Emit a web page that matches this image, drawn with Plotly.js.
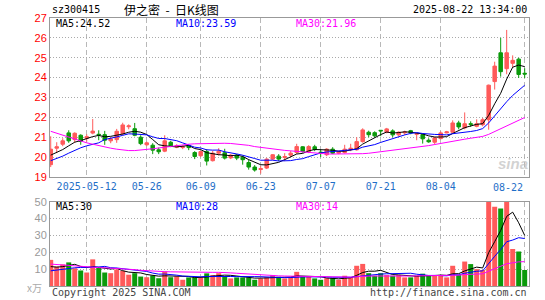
<!DOCTYPE html>
<html><head><meta charset="utf-8">
<script src="https://cdn.plot.ly/plotly-3.0.1.min.js"></script>
<style>html,body{margin:0;padding:0;background:#fff}#chart{width:545px;height:300px}</style>
</head><body><div id="chart"></div>
<script>
const dates = ['2025-04-29','2025-04-30','2025-05-06','2025-05-07','2025-05-08','2025-05-09','2025-05-12','2025-05-13','2025-05-14','2025-05-15',
'2025-05-16','2025-05-19','2025-05-20','2025-05-21','2025-05-22','2025-05-23','2025-05-26','2025-05-27','2025-05-28','2025-05-29',
'2025-05-30','2025-06-03','2025-06-04','2025-06-05','2025-06-06','2025-06-09','2025-06-10','2025-06-11','2025-06-12','2025-06-13',
'2025-06-16','2025-06-17','2025-06-18','2025-06-19','2025-06-20','2025-06-23','2025-06-24','2025-06-25','2025-06-26','2025-06-27',
'2025-06-30','2025-07-01','2025-07-02','2025-07-03','2025-07-04','2025-07-07','2025-07-08','2025-07-09','2025-07-10','2025-07-11',
'2025-07-14','2025-07-15','2025-07-16','2025-07-17','2025-07-18','2025-07-21','2025-07-22','2025-07-23','2025-07-24','2025-07-25',
'2025-07-28','2025-07-29','2025-07-30','2025-07-31','2025-08-01','2025-08-04','2025-08-05','2025-08-06','2025-08-07','2025-08-08',
'2025-08-11','2025-08-12','2025-08-13','2025-08-14','2025-08-15','2025-08-18','2025-08-19','2025-08-20','2025-08-21','2025-08-22'];

const openP = [19.62,20.45,20.65,21.22,20.88,21.1,20.95,21.21,21.15,21.13,
20.82,20.88,21.18,21.53,21.43,21.0,20.62,20.6,20.37,20.3,
20.75,20.5,20.48,20.58,20.23,20.07,20.28,19.82,20.2,20.22,
19.96,20.1,20.0,19.73,19.5,19.38,19.45,19.9,20.05,19.98,
20.1,20.23,20.52,20.27,20.52,20.25,20.12,20.4,20.2,20.23,
20.38,20.37,20.78,21.25,21.23,21.35,21.25,21.32,21.12,21.22,
21.33,21.15,21.13,20.85,20.75,20.93,21.22,21.25,21.72,21.47,
21.68,21.55,21.63,21.88,23.8,25.25,24.45,24.72,24.93,24.22];
const highP = [21.05,20.75,20.95,21.35,21.25,21.15,21.15,21.92,21.35,21.32,
21.0,21.42,21.73,21.65,21.72,21.1,20.78,20.7,20.48,21.1,
20.82,20.65,20.6,20.62,20.3,20.32,20.4,20.32,20.45,20.42,
20.15,20.15,20.08,19.87,19.6,19.55,19.95,20.15,20.15,20.2,
20.32,20.67,20.55,20.6,20.62,20.38,20.45,20.5,20.32,20.62,
20.67,21.0,21.45,21.33,21.3,21.35,21.47,21.4,21.3,21.33,
21.37,21.2,21.18,20.95,21.02,21.3,21.32,21.85,21.83,22.25,
21.8,21.9,21.97,23.65,24.8,26.0,26.4,25.12,25.0,24.47];
const lowP = [19.5,20.2,20.55,20.72,20.72,20.62,20.78,21.15,20.85,20.62,
20.7,20.72,21.1,21.4,21.05,20.6,20.55,20.15,20.15,20.25,
20.5,20.45,20.4,20.35,19.9,20.0,19.58,19.78,20.08,19.88,
19.9,19.85,19.62,19.37,19.27,19.17,19.4,19.85,19.8,19.8,
20.0,20.15,20.22,20.2,20.3,20.0,20.05,20.15,20.15,20.18,
20.3,20.33,20.73,21.0,21.0,21.05,21.2,21.0,21.05,21.12,
21.15,20.85,20.68,20.72,20.63,20.9,21.2,21.2,21.4,21.4,
21.52,21.5,21.55,21.38,23.4,24.05,24.17,24.5,23.98,23.98];
const closeP = [20.4,20.52,20.82,20.82,21.2,20.8,21.03,21.31,21.12,20.85,
20.92,21.3,21.62,21.57,21.1,20.68,20.72,20.35,20.27,20.82,
20.55,20.58,20.52,20.48,20.03,20.28,19.8,20.2,20.3,19.95,
20.1,19.95,19.87,19.5,19.35,19.42,19.9,20.12,19.9,20.03,
20.2,20.53,20.28,20.53,20.38,20.22,20.4,20.2,20.28,20.4,
20.45,20.78,21.37,21.13,21.07,21.32,21.42,21.12,21.25,21.26,
21.22,21.18,20.92,20.77,20.97,21.22,21.27,21.72,21.52,21.68,
21.65,21.68,21.88,23.62,24.58,24.3,25.25,24.87,24.16,24.18];
const volume = [15.5,11.5,12.8,14.0,10.5,9.2,8.0,15.8,11.0,8.0,
7.6,9.8,9.0,6.7,7.6,5.6,5.2,6.2,4.6,8.6,
5.2,5.7,3.7,5.1,5.1,5.1,7.5,6.5,7.6,5.5,
4.5,5.1,5.1,5.1,3.7,4.5,5.1,6.5,5.5,4.5,
5.1,8.4,5.5,5.5,4.5,3.7,4.7,4.7,3.7,6.1,
5.1,12.0,13.1,7.6,6.1,7.6,6.5,6.1,6.5,5.1,
5.1,6.1,7.3,6.1,6.5,6.5,5.1,12.0,6.5,14.5,
13.0,10.0,9.5,52,47,46,52,22,20.5,9.5];

// moving-average values before enough in-chart history exists
const ma5Head = [20.1,20.22,20.38,20.57];
const ma10Head = [19.82,19.93,20.05,20.2,20.35,20.47,20.57,20.65,20.72];
const ma30Head = [21.3,21.2,21.1,21.0,20.9,20.8,20.72,20.65,20.58,20.5,20.45,20.4,20.35,20.33,20.33,20.35,20.38,20.42,20.46,20.5,20.55,20.6,20.63,20.65,20.67,20.68,20.68,20.7,20.72];
const vma5Head = [11.5,11.2,11.5,12.0];
const vma10Head = [9.0,9.5,10.0,10.5,10.8,11.0,11.0,11.2,11.3];
const vma30Head = [13.0,12.7,12.4,12.0,11.7,11.4,11.2,11.0,10.9,10.8,10.6,10.5,10.4,10.0,9.7,9.3,9.0,8.8,8.7,8.5,8.4,8.3,8.2,8.1,8.0,8.0,8.0,8.1,8.1];

const tickDates = ['2025-05-12','2025-05-26','2025-06-09','2025-06-23','2025-07-07','2025-07-21','2025-08-04','2025-08-22'];
const tickLabels = ['2025-05-12','05-26','06-09','06-23','07-07','07-21','08-04',''];
const priceTicks = [19,20,21,22,23,24,25,26,27];
const volTicks = [10,20,30,40,50];

function movingAvg(vals, n, head){
  return vals.map((v,i)=> i<head.length ? head[i] : vals.slice(i-n+1,i+1).reduce((a,b)=>a+b,0)/n);
}
const RED='#ff5a5a', GREEN='#0b9a0b', BLUE='#0000ff', MAG='#ff00ff';
const MONO='DejaVu Sans Mono';
const volColors = closeP.map((c,i)=> c>=openP[i] ? RED : GREEN);

const traces = [
  {type:'candlestick', x:dates, open:openP, high:highP, low:lowP, close:closeP, xaxis:'x', yaxis:'y',
   increasing:{line:{color:RED,width:1}, fillcolor:RED}, decreasing:{line:{color:GREEN,width:1}, fillcolor:GREEN},
   whiskerwidth:0, hoverinfo:'skip', showlegend:false},
  {type:'scatter', mode:'lines', x:dates, y:movingAvg(closeP,5,ma5Head), line:{color:'#000',width:1}, xaxis:'x', yaxis:'y', hoverinfo:'skip'},
  {type:'scatter', mode:'lines', x:dates, y:movingAvg(closeP,10,ma10Head), line:{color:BLUE,width:1}, xaxis:'x', yaxis:'y', hoverinfo:'skip'},
  {type:'scatter', mode:'lines', x:dates, y:movingAvg(closeP,30,ma30Head), line:{color:MAG,width:1}, xaxis:'x', yaxis:'y', hoverinfo:'skip'},
  {type:'bar', x:dates, y:volume, marker:{color:volColors, line:{width:0}}, xaxis:'x2', yaxis:'y2', hoverinfo:'skip'},
  {type:'scatter', mode:'lines', x:dates, y:movingAvg(volume,5,vma5Head), line:{color:'#000',width:1}, xaxis:'x2', yaxis:'y2', hoverinfo:'skip'},
  {type:'scatter', mode:'lines', x:dates, y:movingAvg(volume,10,vma10Head), line:{color:BLUE,width:1}, xaxis:'x2', yaxis:'y2', hoverinfo:'skip'},
  {type:'scatter', mode:'lines', x:dates, y:movingAvg(volume,30,vma30Head), line:{color:MAG,width:1}, xaxis:'x2', yaxis:'y2', hoverinfo:'skip'}
];

const L=50, R=16, T=18, B=14, W=545, H=300;
const pw = W-L-R, ph = H-T-B;
const px = x => (x-L)/pw;
const py = y => (H-B-y)/ph;

function ann(text, x, y, color, xanchor, size, family){
  return {text:text, x:px(x), y:py(y), xref:'paper', yref:'paper', xanchor:xanchor||'left', yanchor:'middle',
    showarrow:false, font:{family:family||MONO, size:size||10, color:color||'#000'}};
}

const NB = '\u00a0';
const gridX = {showgrid:true, gridcolor:'#b8b8b8', griddash:'5px,3px', gridwidth:1.5};
const layout = {
  width:W, height:H, margin:{l:L,r:R,t:T,b:B}, paper_bgcolor:'#fff', plot_bgcolor:'#fff',
  showlegend:false, boxgap:0.17, bargap:0.17,
  xaxis:Object.assign({type:'category', range:[-0.12,79.72], anchor:'y', domain:[0,1],
    tickmode:'array', tickvals:tickDates, ticktext:tickLabels, ticks:'', tickangle:0,
    tickfont:{family:MONO, size:10, color:'#1f6fc8'},
    showline:true, linecolor:'#999', linewidth:1, mirror:true, rangeslider:{visible:false}, fixedrange:true}, gridX),
  yaxis:{domain:[py(177),1], range:[19,27], anchor:'x', tickmode:'array', tickvals:priceTicks, ticks:'',
    tickfont:{family:'Liberation Sans', size:11, color:'#ff0000'}, showgrid:true, gridcolor:'#aaa', griddash:'1px,2px',
    showline:true, linecolor:'#999', linewidth:1, mirror:true, zeroline:false, fixedrange:true},
  xaxis2:Object.assign({type:'category', matches:'x', anchor:'y2', domain:[0,1], tickmode:'array', tickvals:tickDates,
    showticklabels:false, ticks:'', showline:true, linecolor:'#999', linewidth:1, mirror:true, fixedrange:true}, gridX),
  yaxis2:{domain:[0,py(201.7)], range:[0,50], anchor:'x2', tickmode:'array', tickvals:volTicks, ticks:'',
    tickfont:{family:'Liberation Sans', size:11, color:'#999'}, showgrid:true, gridcolor:'#aaa', griddash:'1px,2px',
    showline:true, linecolor:'#999', linewidth:1, mirror:true, zeroline:false, fixedrange:true},
  annotations:[
    ann('sz300415', 50, 10, '#000', 'left', 10),
    ann('伊之密'+NB+NB+'-'+NB+NB+'日K线图', 171, 9, '#000', 'center', 12, 'Noto Sans CJK SC'),
    ann('2025-08-22 13:34:00', 529, 10, '#000', 'right', 10),
    ann('MA5:24.52', 54, 24, '#000'),
    ann('MA10:23.59', 174, 24, BLUE),
    ann('MA30:21.96', 294, 24, MAG),
    ann('MA5:30', 54, 206, '#000'),
    ann('MA10:28', 174, 206, BLUE),
    ann('MA30:14', 294, 206, MAG),
    ann('08-22', 508, 187, '#1f6fc8', 'center', 10),
    ann('x万', 44, 287, '#aaa', 'right', 10, 'Noto Sans CJK SC'),
    ann('Copyright 2025 SINA.COM', 50, 292, '#444', 'left', 10),
    ann('http://finance.sina.com.cn', 529, 292, '#444', 'right', 10),
    {text:'<b><i>sina</i></b>', x:px(513), y:py(163), xref:'paper', yref:'paper', xanchor:'center', yanchor:'middle',
     showarrow:false, font:{family:'Liberation Sans', size:15, color:'rgba(190,190,190,0.7)'}}
  ]
};
Plotly.newPlot('chart', traces, layout, {staticPlot:true, displayModeBar:false});
</script></body></html>
